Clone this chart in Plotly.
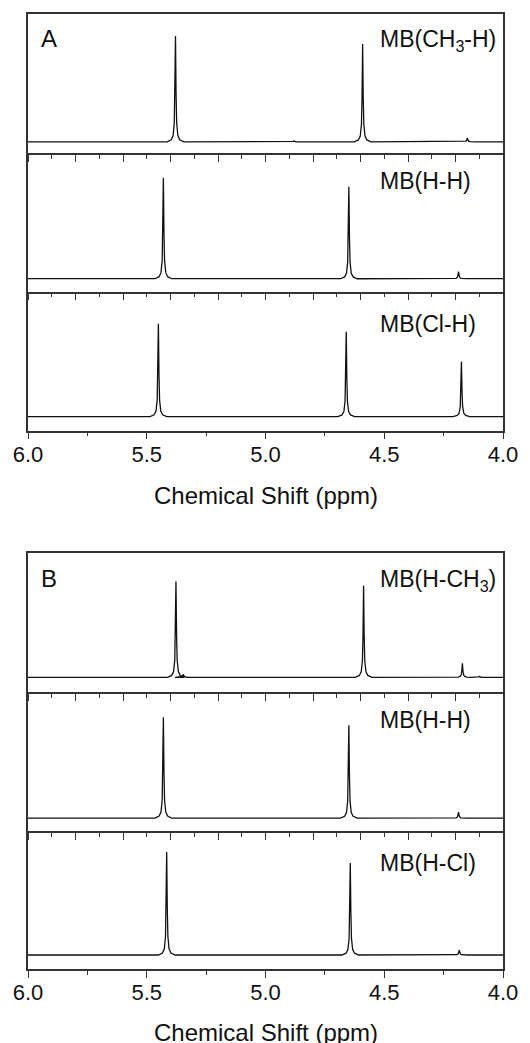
import plotly.graph_objects as go

# ---------------- data ----------------
panel_letters = ["A", "B"]
sample_labels = ["MB(CH<sub>3</sub>-H)", "MB(H-H)", "MB(Cl-H)",
                 "MB(H-CH<sub>3</sub>)", "MB(H-H)", "MB(H-Cl)"]
x_title = "Chemical Shift (ppm)"
x_tick_vals = [6.0, 5.5, 5.0, 4.5, 4.0]
x_tick_text = ["6.0", "5.5", "5.0", "4.5", "4.0"]

# peak positions (ppm) and intensities (a.u.) for each spectrum
A1_ppm = [5.379, 4.880, 4.591, 4.150]
A1_int = [106, 1, 98, 4]
A2_ppm = [5.430, 4.649, 4.187]
A2_int = [101, 92, 7]
A3_ppm = [5.451, 4.660, 4.175]
A3_int = [93, 85, 55]
B1_ppm = [5.377, 5.346, 4.587, 4.171, 4.100]
B1_int = [96, 3, 92, 14, 1]
B2_ppm = [5.430, 4.649, 4.187]
B2_int = [101, 93, 6]
B3_ppm = [5.416, 4.643, 4.184]
B3_int = [103, 92, 5]

# line shape: ppm offset from centre, fraction of height
profile_offset = [0.035, 0.018, 0.010, 0.005, 0.0025, 0.0]
profile_frac = [0.0, 0.02, 0.06, 0.18, 0.45, 1.0]

spectra = [(A1_ppm, A1_int), (A2_ppm, A2_int), (A3_ppm, A3_int),
           (B1_ppm, B1_int), (B2_ppm, B2_int), (B3_ppm, B3_int)]

# ---------------- layout geometry (pixels) ----------------
W, H = 530, 1043
L, R, T, Bm = 28, 25, 13, 74
plot_h = H - T - Bm
sub_px = [(13, 152), (152, 291), (291, 430), (553, 692), (692, 831), (831, 969)]
base_off = [11, 13, 14, 15, 13, 14]
label_py = [40, 180, 323, 580, 720, 863]


def py2paper(py):
    return (H - Bm - py) / plot_h


def px2paper(px):
    return (px - L) / (W - L - R)


def build_curve(ppm, inten):
    xs, ys = [6.0], [0.0]
    for p, h in sorted(zip(ppm, inten), key=lambda t: -t[0]):
        for off, fr in zip(profile_offset, profile_frac):
            xs.append(p + off)
            ys.append(h * fr)
        for off, fr in zip(reversed(profile_offset[:-1]), reversed(profile_frac[:-1])):
            xs.append(p - off)
            ys.append(h * fr)
    xs.append(4.0)
    ys.append(0.0)
    return xs, ys


FONT = "Liberation Sans, Arial, sans-serif"
fig = go.Figure()
lay = dict(width=W, height=H, margin=dict(l=L, r=R, t=T, b=Bm),
           paper_bgcolor="white", plot_bgcolor="white", showlegend=False,
           font=dict(family=FONT, color="#111", size=22))
annotations = []
frame = "#333333"

for i, (ppm, inten) in enumerate(spectra):
    n = i + 1
    xs, ys = build_curve(ppm, inten)
    fig.add_trace(go.Scatter(x=xs, y=ys, mode="lines",
                             line=dict(color="#111111", width=1.3),
                             xaxis=f"x{n}", yaxis=f"y{n}", hoverinfo="skip"))
    top, bot = sub_px[i]
    dom = [py2paper(bot), py2paper(top)]
    bottom_axis = (i % 3 == 2)
    top_axis = (i % 3 == 0)
    xa = dict(domain=[0, 1], range=[6.0, 4.0], anchor=f"y{n}",
              showline=True, mirror=top_axis, linecolor=frame, linewidth=1.5,
              showgrid=False, zeroline=False, ticks="outside",
              tickcolor=frame, tickwidth=1.3)
    if bottom_axis:
        xa.update(tickmode="array", tickvals=x_tick_vals, ticktext=x_tick_text,
                  ticklen=7, showticklabels=True, ticklabelstandoff=-4,
                  tickfont=dict(size=22, family=FONT, color="#111"),
                  minor=dict(ticks="outside", tickmode="linear", tick0=4.0, dtick=0.25,
                             ticklen=4, tickcolor=frame, tickwidth=1.2))
    else:
        xa.update(tickmode="linear", tick0=4.0, dtick=0.2, ticklen=7,
                  showticklabels=False,
                  minor=dict(ticks="outside", tickmode="linear", tick0=4.0, dtick=0.1,
                             ticklen=4, tickcolor=frame, tickwidth=1.2))
    h_units = bot - top
    ya = dict(domain=dom, range=[-base_off[i], h_units - base_off[i]], anchor=f"x{n}",
              showline=True, mirror=True, linecolor=frame, linewidth=1.5,
              showgrid=False, zeroline=False, ticks="", showticklabels=False)
    lay[f"xaxis{n}" if n > 1 else "xaxis"] = xa
    lay[f"yaxis{n}" if n > 1 else "yaxis"] = ya

    annotations.append(dict(text=sample_labels[i], xref="paper", yref="paper",
                            x=px2paper(379), y=py2paper(label_py[i]),
                            xanchor="left", yanchor="middle", showarrow=False,
                            font=dict(size=23, family=FONT, color="#111")))

for k, letter in enumerate(panel_letters):
    annotations.append(dict(text=letter, xref="paper", yref="paper",
                            x=px2paper(39), y=py2paper([38, 578][k]),
                            xanchor="left", yanchor="middle", showarrow=False,
                            font=dict(size=24, family=FONT, color="#111")))
for yc in [495, 1033]:
    annotations.append(dict(text=x_title, xref="paper", yref="paper",
                            x=0.5, y=py2paper(yc), xanchor="center", yanchor="middle",
                            showarrow=False, font=dict(size=24, family=FONT, color="#111")))

lay["annotations"] = annotations
fig.update_layout(**lay)
fig.write_html("out.html")
